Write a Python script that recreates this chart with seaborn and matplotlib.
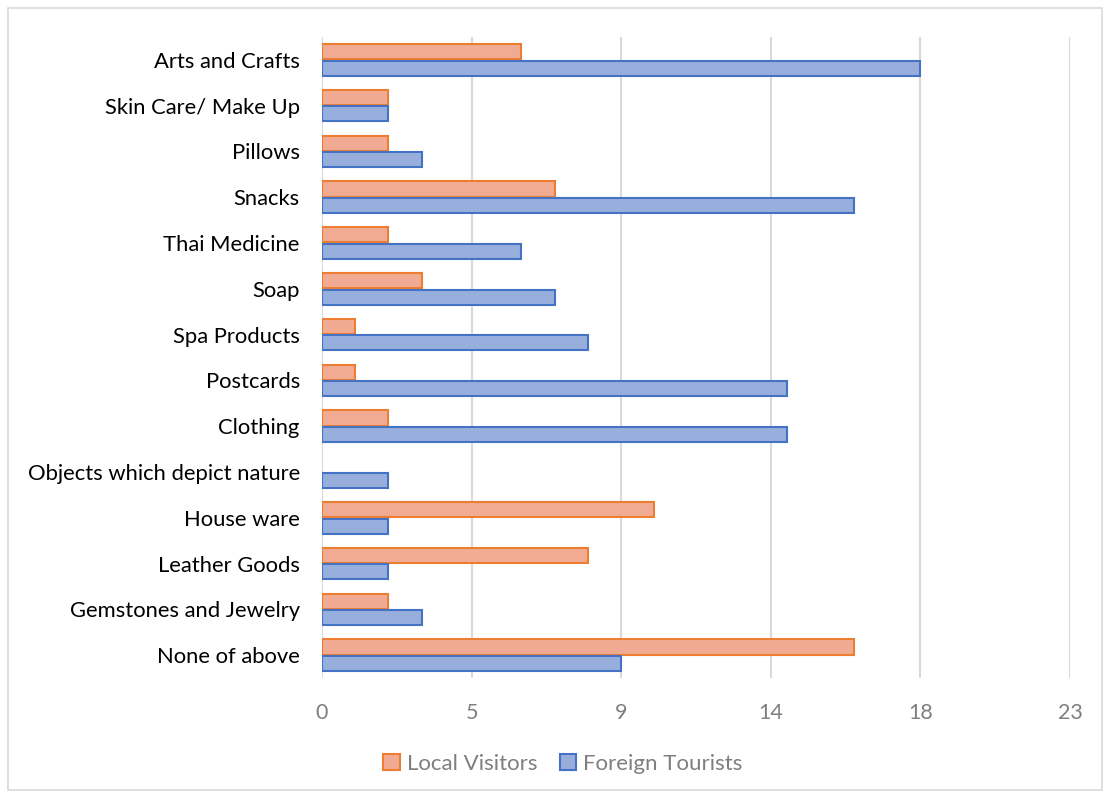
import matplotlib
matplotlib.use("Agg")
import matplotlib.pyplot as plt
import seaborn as sns
import pandas as pd
from matplotlib.patches import Rectangle

categories = [
    "Arts and Crafts", "Skin Care/ Make Up", "Pillows", "Snacks", "Thai Medicine",
    "Soap", "Spa Products", "Postcards", "Clothing", "Objects which depict nature",
    "House ware", "Leather Goods", "Gemstones and Jewelry", "None of above",
]
local_visitors = [6, 2, 2, 7, 2, 3, 1, 1, 2, 0, 10, 8, 2, 16]
foreign_tourists = [18, 2, 3, 16, 6, 7, 8, 14, 14, 2, 2, 2, 3, 9]
series_names = ["Local Visitors", "Foreign Tourists"]
tick_values = [0, 4.5, 9, 13.5, 18, 22.5]
tick_labels = ["0", "5", "9", "14", "18", "23"]

df = pd.DataFrame({
    "category": categories * 2,
    "value": local_visitors + foreign_tourists,
    "series": [series_names[0]] * len(categories) + [series_names[1]] * len(categories),
})

sns.set_theme(style="white")
plt.rcParams["font.family"] = ["Lato", "DejaVu Sans"]

fig = plt.figure(figsize=(11.08, 7.95), dpi=100)
ax = fig.add_axes([0.2906, 0.147, 0.6751, 0.8065])

fills = {"Local Visitors": "#F1AB93", "Foreign Tourists": "#98AFDE"}
edges = {"Local Visitors": "#ED7D31", "Foreign Tourists": "#4472C4"}

sns.barplot(data=df, y="category", x="value", hue="series", order=categories,
            hue_order=series_names, palette=fills, orient="h", width=0.72,
            gap=0.08, ax=ax, legend=False, saturation=1)

for container, name in zip(ax.containers, series_names):
    for bar in container:
        bar.set_edgecolor(edges[name])
        # empty bars draw nothing at all
        bar.set_linewidth(1.5 if bar.get_width() > 0 else 0)

ax.set_xlim(0, 22.5)
ax.set_ylim(len(categories) - 0.5, -0.5)
ax.set_xticks(tick_values)
ax.set_xticklabels(tick_labels)
ax.xaxis.grid(True, color="#D9D9D9", linewidth=1.5)
ax.set_axisbelow(True)
for s in ax.spines.values():
    s.set_visible(False)
ax.set_xlabel("")
ax.set_ylabel("")
ax.tick_params(axis="x", colors="#7F7F7F", labelsize=15.5, length=0, pad=18)
ax.tick_params(axis="y", colors="#000000", labelsize=15.8, length=0, pad=16)
for lbl in ax.get_xticklabels():
    lbl.set_color("#7F7F7F")

handles = [Rectangle((0, 0), 1, 1, facecolor=fills[n], edgecolor=edges[n], linewidth=1.5)
           for n in series_names]
fig.legend(handles, series_names, loc="center", bbox_to_anchor=(0.508, 0.039),
           ncol=2, frameon=False, fontsize=16, labelcolor="#7F7F7F",
           handlelength=0.75, handleheight=0.75, handletextpad=0.3, columnspacing=1.0)

fig.patches.append(Rectangle((0.007, 0.006), 0.988, 0.984, transform=fig.transFigure,
                             fill=False, edgecolor="#D9D9D9", linewidth=1.2))

fig.savefig("out.png", dpi=100)
